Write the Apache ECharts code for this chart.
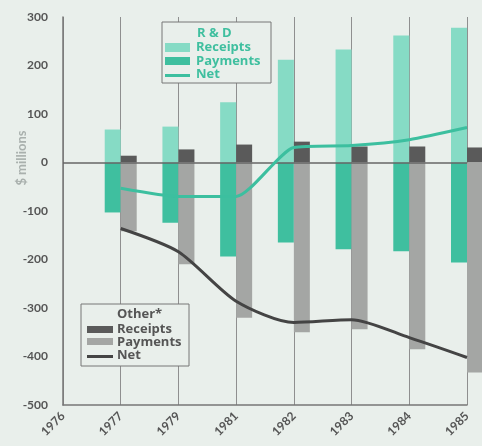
<!DOCTYPE html>
<html>
<head>
<meta charset="utf-8">
<script src="https://cdn.jsdelivr.net/npm/echarts@6/dist/echarts.min.js"></script>
<style>
html,body{margin:0;padding:0;background:#e9efeb;}
#main{width:482px;height:446px;}
</style>
</head>
<body>
<div id="main"></div>
<script>
var years = ['1976','1977','1979','1981','1982','1983','1984','1985'];
var yTicks = [-500,-400,-300,-200,-100,0,100,200,300];
var rdReceipts = [null, 68, 74, 124, 212, 233, 262, 278];
var rdPayments = [null, -103, -124, -194, -165, -179, -183, -206];
var rdNet = [null, -53, -70, -70, 31, 35, 47, 72];
var otherReceipts = [null, 14, 27, 37, 43, 33, 33, 31];
var otherPayments = [null, -142, -210, -320, -350, -344, -385, -433];
var otherNet = [null, -136, -184, -286, -330, -324, -361, -402];

var BG = '#e9efeb';
var C_RDREC = '#86dbc5';
var C_RDPAY = '#3fbf9f';
var C_RDNET = '#3cbf9f';
var C_OREC = '#5a5a5a';
var C_OPAY = '#a4a6a4';
var C_ONET = '#444444';
var FONT = 'Lato';
var LFONT = 'Open Sans';

var chart = echarts.init(document.getElementById('main'), null, {renderer:'canvas'});
function lt(x, y, text, fill) {
  return {type: 'text', x: x, y: y, z: 11, style: {text: text, fill: fill, fontSize: 13, fontWeight: 'bold', fontFamily: LFONT, verticalAlign: 'middle'}};
}
var option = {
  backgroundColor: BG,
  animation: false,
  grid: {left: 63, right: 15, top: 17, bottom: 41, containLabel: false},
  xAxis: {
    type: 'category',
    data: years,
    boundaryGap: false,
    axisLine: {show: true, onZero: false, lineStyle: {color: '#777', width: 1.5}},
    axisTick: {show: false},
    splitLine: {show: true, lineStyle: {color: '#8f8f8f', width: 1}},
    axisLabel: {rotate: 45, margin: 9, color: '#555', fontSize: 12, fontWeight: 'bold', fontFamily: FONT, interval: 0}
  },
  yAxis: {
    type: 'value',
    min: yTicks[0], max: yTicks[yTicks.length-1], interval: 100,
    axisLine: {show: true, lineStyle: {color: '#777', width: 1.5}},
    axisTick: {show: false},
    splitLine: {show: false},
    axisLabel: {margin: 15, color: '#555', fontSize: 12, fontWeight: 'bold', fontFamily: FONT}
  },
  series: [
    {name: 'R&D Receipts', type: 'bar', stack: 'rd', data: rdReceipts, barWidth: 16, barGap: '0%', clip: false, itemStyle: {color: C_RDREC},
     markLine: {silent: true, symbol: 'none', label: {show: false}, lineStyle: {color: '#666', width: 1.5, type: 'solid'}, data: [{yAxis: 0}]}},
    {name: 'R&D Payments', type: 'bar', stack: 'rd', data: rdPayments, barWidth: 16, barGap: '0%', clip: false, itemStyle: {color: C_RDPAY}},
    {name: 'Other Receipts', type: 'bar', stack: 'other', data: otherReceipts, barWidth: 16, barGap: '0%', clip: false, itemStyle: {color: C_OREC}},
    {name: 'Other Payments', type: 'bar', stack: 'other', data: otherPayments, barWidth: 16, barGap: '0%', clip: false, itemStyle: {color: C_OPAY}},
    {name: 'R&D Net', type: 'line', data: rdNet, smooth: 0.2, showSymbol: false, symbol: 'none', z: 5, lineStyle: {color: C_RDNET, width: 3}},
    {name: 'Other Net', type: 'line', data: otherNet, smooth: 0.25, showSymbol: false, symbol: 'none', z: 5, lineStyle: {color: C_ONET, width: 3}}
  ],
  graphic: [
    {type: 'text', x: 22, y: 158, rotation: Math.PI/2, style: {text: '$ millions', fill: '#a9b0ad', fontSize: 13, fontWeight: 'bold', fontFamily: FONT, align: 'center', verticalAlign: 'middle'}},
    // R&D legend
    {type: 'rect', shape: {x: 162, y: 22, width: 109, height: 61}, style: {fill: BG, stroke: '#777', lineWidth: 1}, z: 10},
    lt(197, 33, 'R & D', C_RDPAY),
    {type: 'rect', shape: {x: 165, y: 43, width: 25, height: 9}, style: {fill: C_RDREC}, z: 11},
    lt(196, 47, 'Receipts', C_RDPAY),
    {type: 'rect', shape: {x: 165, y: 57, width: 25, height: 8}, style: {fill: C_RDPAY}, z: 11},
    lt(196, 61, 'Payments', C_RDPAY),
    {type: 'rect', shape: {x: 165, y: 74, width: 25, height: 3}, style: {fill: C_RDNET}, z: 11},
    lt(196, 74, 'Net', C_RDPAY),
    // Other legend
    {type: 'rect', shape: {x: 81, y: 304, width: 108, height: 62}, style: {fill: BG, stroke: '#777', lineWidth: 1}, z: 10},
    lt(117, 314, 'Other*', '#555'),
    {type: 'rect', shape: {x: 87, y: 326, width: 26, height: 7}, style: {fill: C_OREC}, z: 11},
    lt(117, 329, 'Receipts', '#555'),
    {type: 'rect', shape: {x: 87, y: 338, width: 26, height: 7}, style: {fill: C_OPAY}, z: 11},
    lt(117, 342, 'Payments', '#555'),
    {type: 'rect', shape: {x: 87, y: 355, width: 26, height: 3}, style: {fill: C_ONET}, z: 11},
    lt(117, 355, 'Net', '#555')
  ]
};
chart.setOption(option);
</script>
</body>
</html>
